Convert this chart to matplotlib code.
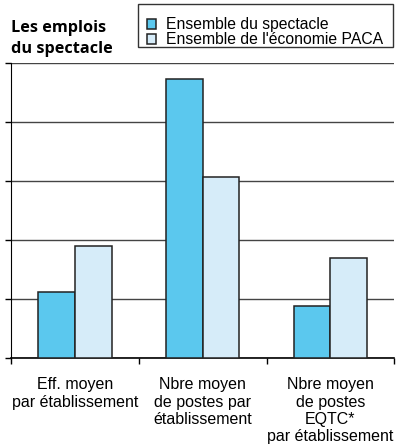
import matplotlib
matplotlib.use("Agg")
import matplotlib.pyplot as plt
from matplotlib.patches import Rectangle
import numpy as np

categories = [
    "Eff. moyen\npar établissement",
    "Nbre moyen\nde postes par\nétablissement",
    "Nbre moyen\nde postes\nEQTC*\npar établissement",
]
series_names = ["Ensemble du spectacle", "Ensemble de l'économie PACA"]
spectacle = [1.12, 4.73, 0.87]
economie_paca = [1.90, 3.07, 1.70]

DARK = "#5bc8ee"
LIGHT = "#d6ecf9"
EDGE = "#222222"

fig = plt.figure(figsize=(4.09, 4.44), dpi=100)
ax = fig.add_axes([11 / 409, 86.3 / 444, 383.3 / 409, 294.4 / 444])

x = np.arange(len(categories))
w = 0.287
ax.bar(x - w / 2, spectacle, w, color=DARK, edgecolor=EDGE, linewidth=1.1,
       label=series_names[0], zorder=3)
ax.bar(x + w / 2, economie_paca, w, color=LIGHT, edgecolor=EDGE, linewidth=1.1,
       label=series_names[1], zorder=3)

ax.set_xlim(-0.5, 2.5)
ax.set_ylim(0, 5)
ax.set_yticks(range(0, 6))
ax.set_yticklabels([])
ax.tick_params(axis="y", direction="out", length=4.5, width=1, color="black")
ax.yaxis.grid(True, color="#444444", linewidth=1.0, zorder=0)

ax.set_xticks([-0.5, 0.5, 1.5, 2.5])
ax.set_xticklabels([])
ax.tick_params(axis="x", which="major", direction="out", length=4.5, width=1)
ax.set_xticks(x, minor=True)
ax.set_xticklabels(categories, minor=True, fontsize=11.5,
                   family="Liberation Sans", linespacing=1.2)
ax.tick_params(axis="x", which="minor", length=0, pad=14)

for s in ["top", "right"]:
    ax.spines[s].set_visible(False)
ax.spines["left"].set_color("black")
ax.spines["bottom"].set_color("black")
ax.spines["bottom"].set_linewidth(1.2)

# title, two lines
fig.text(11 / 409, 1 - 31.7 / 444, "Les emplois", fontsize=11.7,
         fontweight="bold", family="Open Sans", va="baseline", ha="left")
fig.text(11 / 409, 1 - 53.3 / 444, "du spectacle", fontsize=11.7,
         fontweight="bold", family="Open Sans", va="baseline", ha="left")

# legend box drawn separately so the rows can sit low inside it
fig.patches.append(Rectangle((138.3 / 409, 1 - 46.7 / 444), 255 / 409, 42.7 / 444,
                             transform=fig.transFigure, fill=False,
                             edgecolor="#333333", linewidth=1.0))
leg = ax.legend(loc="upper left", bbox_to_anchor=(147 / 409, 1 - 17.5 / 444),
                bbox_transform=fig.transFigure, frameon=False,
                handlelength=0.6, handleheight=0.6,
                handletextpad=0.6, labelspacing=0.0, borderpad=0,
                borderaxespad=0, prop={"family": "Liberation Sans", "size": 11.3})

fig.savefig("out.png", dpi=100)
